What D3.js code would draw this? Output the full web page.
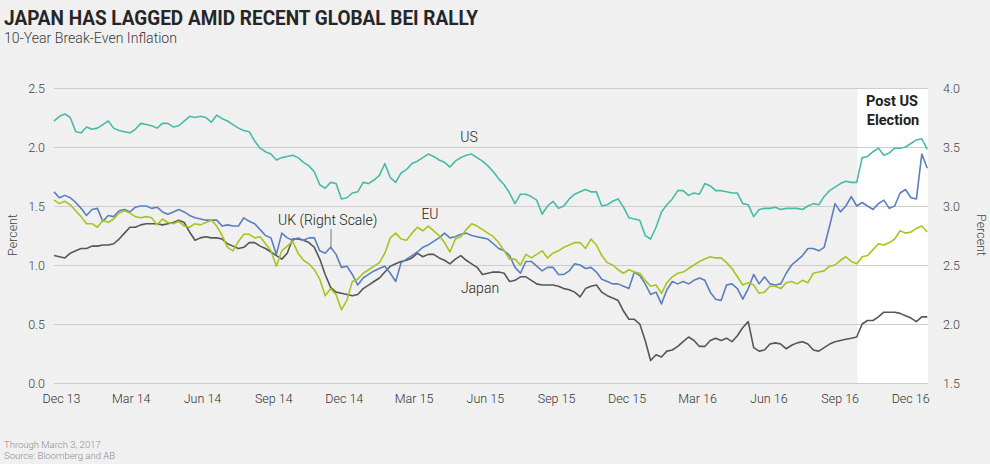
<!DOCTYPE html>
<html>
<head>
<meta charset="utf-8">
<script src="https://cdn.jsdelivr.net/npm/d3@7"></script>
<style>
  html, body { margin: 0; padding: 0; background: #f0f0f0; }
  svg { display: block; }
  text { font-family: Roboto, "Open Sans", "DejaVu Sans", sans-serif; }
</style>
</head>
<body>
<svg id="chart" width="990" height="464"></svg>
<script>
// ---------------- DATA ----------------
const title = "JAPAN HAS LAGGED AMID RECENT GLOBAL BEI RALLY";
const subtitle = "10-Year Break-Even Inflation";
const footnotes = ["Through March 3, 2017", "Source: Bloomberg and AB"];

const seriesStart = "2013-11-22";   // first weekly observation
const domainEnd = "2016-12-24";
const shadeStart = "2016-09-24";    // "Post US Election" panel
const xTickDates = ["2013-12-01","2014-03-01","2014-06-01","2014-09-01","2014-12-01","2015-03-01",
                    "2015-06-01","2015-09-01","2015-12-01","2016-03-01","2016-06-01","2016-09-01","2016-12-01"];
const leftTicks = [0, 0.5, 1.0, 1.5, 2.0, 2.5];
const rightTicks = [1.5, 2.0, 2.5, 3.0, 3.5, 4.0];

// weekly observations, percent (left scale)
const usValues = [2.22,2.26,2.28,2.25,2.13,2.12,2.17,2.15,2.16,2.19, 2.22,2.16,2.14,2.13,2.12,2.15,2.20,2.19,2.18,2.16,
  2.20,2.20,2.17,2.18,2.22,2.26,2.25,2.26,2.25,2.21, 2.27,2.24,2.22,2.19,2.16,2.14,2.13,2.05,1.99,1.96,
  1.94,1.89,1.91,1.92,1.93,1.91,1.87,1.84,1.79,1.68, 1.65,1.70,1.69,1.56,1.57,1.61,1.62,1.70,1.69,1.72,
  1.76,1.86,1.74,1.70,1.78,1.81,1.86,1.88,1.91,1.94, 1.92,1.89,1.87,1.83,1.88,1.91,1.93,1.94,1.91,1.88,
  1.84,1.79,1.73,1.68,1.61,1.52,1.60,1.60,1.58,1.55, 1.43,1.50,1.54,1.48,1.50,1.56,1.60,1.62,1.64,1.62,
  1.62,1.50,1.51,1.54,1.56,1.49,1.40,1.39,1.38,1.25, 1.22,1.32,1.45,1.51,1.56,1.63,1.63,1.59,1.61,1.60,
  1.69,1.67,1.63,1.63,1.62,1.61,1.61,1.52,1.51,1.41, 1.47,1.48,1.48,1.49,1.47,1.48,1.48,1.48,1.47,1.50,
  1.52,1.51,1.58,1.63,1.66,1.69,1.71,1.70,1.70,1.91, 1.92,1.96,1.99,1.93,1.95,1.99,1.99,2.00,2.03,2.06,
  2.07,1.98];

// UK on the right scale
const ukValues = [3.12,3.07,3.09,3.07,3.03,2.98,2.92,2.97,2.98,2.87, 2.92,2.91,2.96,2.97,2.95,2.99,3.00,3.00,2.98,2.99,
  2.95,2.93,2.95,2.97,2.95,2.92,2.90,2.89,2.88,2.88, 2.88,2.83,2.84,2.83,2.83,2.90,2.87,2.85,2.80,2.75,
  2.73,2.59,2.77,2.73,2.71,2.73,2.71,2.73,2.73,2.62, 2.60,2.65,2.59,2.48,2.49,2.42,2.33,2.39,2.42,2.45,
  2.47,2.49,2.43,2.36,2.52,2.55,2.58,2.61,2.65,2.67, 2.70,2.73,2.77,2.73,2.74,2.76,2.77,2.75,2.74,2.73,
  2.72,2.68,2.64,2.62,2.58,2.48,2.43,2.53,2.53,2.49, 2.45,2.48,2.48,2.42,2.42,2.45,2.51,2.50,2.47,2.48,
  2.44,2.38,2.36,2.34,2.34,2.32,2.30,2.44,2.41,2.34, 2.25,2.27,2.17,2.29,2.36,2.34,2.36,2.34,2.37,2.39,
  2.37,2.27,2.21,2.20,2.33,2.34,2.30,2.21,2.30,2.42, 2.34,2.40,2.34,2.33,2.34,2.43,2.50,2.54,2.58,2.64,
  2.64,2.62,2.65,2.83,3.02,2.95,3.00,3.08,3.00,3.03, 3.00,2.97,3.02,3.05,2.98,3.00,3.11,3.14,3.07,3.06,
  3.44,3.32];

const euValues = [1.55,1.52,1.54,1.51,1.46,1.41,1.35,1.35,1.32,1.38, 1.36,1.39,1.44,1.46,1.44,1.41,1.40,1.41,1.40,1.34,
  1.39,1.36,1.35,1.37,1.33,1.32,1.35,1.34,1.36,1.38, 1.33,1.25,1.15,1.12,1.20,1.26,1.26,1.23,1.24,1.18,
  1.12,0.99,1.12,1.16,1.20,1.10,1.04,1.01,0.96,0.88, 0.74,0.80,0.75,0.62,0.70,0.86,0.88,0.93,0.96,0.99,
  1.02,1.10,1.23,1.27,1.22,1.21,1.27,1.32,1.29,1.33, 1.29,1.25,1.19,1.11,1.22,1.24,1.30,1.35,1.33,1.30,
  1.27,1.24,1.19,1.12,1.05,1.05,1.00,1.09,1.06,1.09, 1.12,1.06,1.10,1.12,1.15,1.17,1.19,1.19,1.14,1.22,
  1.17,1.08,1.02,1.00,0.96,0.93,0.96,0.94,0.93,0.87, 0.82,0.83,0.76,0.85,0.90,0.93,0.94,0.97,1.00,1.03,
  1.05,1.07,1.06,1.06,1.02,0.97,0.90,0.83,0.85,0.83, 0.76,0.77,0.82,0.82,0.80,0.85,0.86,0.84,0.87,0.85,
  0.93,0.94,0.95,0.99,1.00,1.04,1.07,1.03,1.01,1.07, 1.08,1.13,1.18,1.17,1.19,1.22,1.29,1.27,1.28,1.31,
  1.33,1.28];

const japanValues = [1.08,1.07,1.06,1.10,1.12,1.14,1.14,1.16,1.16,1.17, 1.17,1.18,1.22,1.27,1.32,1.32,1.34,1.35,1.35,1.35,
  1.34,1.35,1.36,1.38,1.36,1.28,1.21,1.23,1.24,1.23, 1.23,1.22,1.18,1.16,1.14,1.15,1.19,1.19,1.16,1.14,
  1.11,1.08,1.05,1.10,1.22,1.22,1.21,1.19,1.15,1.05, 0.92,0.81,0.77,0.76,0.75,0.74,0.75,0.80,0.83,0.86,
  0.89,0.94,0.99,1.01,1.03,1.04,1.06,1.10,1.07,1.09, 1.09,1.06,1.04,1.01,1.05,1.08,1.04,1.01,0.98,0.92,
  0.93,0.94,0.94,0.93,0.86,0.87,0.90,0.90,0.87,0.84, 0.83,0.83,0.83,0.82,0.80,0.79,0.77,0.73,0.80,0.82,
  0.83,0.77,0.74,0.72,0.70,0.61,0.54,0.54,0.50,0.36, 0.19,0.24,0.22,0.27,0.28,0.31,0.35,0.39,0.36,0.31,
  0.31,0.36,0.38,0.36,0.38,0.35,0.40,0.47,0.52,0.30, 0.27,0.28,0.33,0.34,0.33,0.29,0.32,0.34,0.35,0.33,
  0.28,0.27,0.30,0.33,0.35,0.36,0.37,0.38,0.39,0.50, 0.53,0.53,0.56,0.60,0.60,0.60,0.59,0.57,0.55,0.52,
  0.56,0.56];

// ---------------- CHART ----------------
const parse = d3.timeParse("%Y-%m-%d");
const start = parse(seriesStart);
const dates = usValues.map((_, i) => d3.timeDay.offset(start, 7 * i));

const plot = { left: 54, right: 928, top: 88, bottom: 383 };
const svg = d3.select("#chart");

const x = d3.scaleTime().domain([start, parse(domainEnd)]).range([plot.left, plot.right]);
const yL = d3.scaleLinear().domain([0, 2.5]).range([plot.bottom, plot.top]);
const yR = d3.scaleLinear().domain([1.5, 4.0]).range([plot.bottom, plot.top]);

// titles
svg.append("text").attr("x", 4).attr("y", 25)
  .attr("font-size", 21).attr("font-weight", 700).attr("fill", "#262626")
  .attr("textLength", 474).attr("lengthAdjust", "spacingAndGlyphs")
  .text(title);
svg.append("text").attr("x", 4).attr("y", 43)
  .attr("font-size", 14).attr("font-weight", 300).attr("fill", "#3a3a3a")
  .attr("textLength", 173).attr("lengthAdjust", "spacingAndGlyphs")
  .text(subtitle);

// shaded post-election panel
svg.append("rect")
  .attr("x", x(parse(shadeStart))).attr("y", plot.top)
  .attr("width", plot.right - x(parse(shadeStart))).attr("height", plot.bottom - plot.top)
  .attr("fill", "#ffffff");

// left axis with gridlines
const gL = svg.append("g").attr("transform", `translate(${plot.left},0)`)
  .call(d3.axisLeft(yL).tickValues(leftTicks).tickFormat(d3.format(".1f"))
    .tickSize(-(plot.right - plot.left)).tickPadding(9));
gL.select(".domain").remove();
gL.selectAll(".tick line").attr("stroke", "#cdcdcd").attr("stroke-width", 1.2);
gL.selectAll(".tick text").attr("font-size", 12.5).attr("font-weight", 300).attr("fill", "#444").attr("font-family", "Roboto, sans-serif");

// right axis
const gR = svg.append("g").attr("transform", `translate(${plot.right},0)`)
  .call(d3.axisRight(yR).tickValues(rightTicks).tickFormat(d3.format(".1f")).tickSize(0).tickPadding(15));
gR.select(".domain").remove();
gR.selectAll(".tick text").attr("font-size", 12.5).attr("font-weight", 300).attr("fill", "#444").attr("font-family", "Roboto, sans-serif");

// bottom axis
const gX = svg.append("g").attr("transform", `translate(0,${plot.bottom})`)
  .call(d3.axisBottom(x).tickValues(xTickDates.map(parse)).tickFormat(d3.timeFormat("%b %y"))
    .tickSize(0).tickPadding(11));
gX.select(".domain").remove();
gX.selectAll(".tick text").attr("font-size", 12.5).attr("font-weight", 300).attr("fill", "#333").attr("font-family", "Roboto, sans-serif");

// axis titles
svg.append("text").attr("transform", `translate(17,235) rotate(-90)`)
  .attr("text-anchor", "middle").attr("font-size", 12.5).attr("font-weight", 300).attr("fill", "#444").text("Percent");
svg.append("text").attr("transform", `translate(977,235) rotate(90)`)
  .attr("text-anchor", "middle").attr("font-size", 12.5).attr("font-weight", 300).attr("fill", "#444").text("Percent");

// lines
const lineL = d3.line().x((d, i) => x(dates[i])).y(d => yL(d));
const lineR = d3.line().x((d, i) => x(dates[i])).y(d => yR(d));
const seriesDefs = [
  { name: "Japan", values: japanValues, line: lineL, color: "#575757" },
  { name: "UK", values: ukValues, line: lineR, color: "#5a7fbe" },
  { name: "EU", values: euValues, line: lineL, color: "#a8c41e" },
  { name: "US", values: usValues, line: lineL, color: "#48bba6" }
];
svg.append("g").selectAll("path").data(seriesDefs).join("path")
  .attr("d", d => d.line(d.values))
  .attr("fill", "none").attr("stroke", d => d.color)
  .attr("stroke-width", 1.6).attr("stroke-linejoin", "round");

// series labels
const lab = svg.append("g").attr("font-size", 14).attr("font-weight", 300).attr("fill", "#222");
lab.append("text").attr("x", 469).attr("y", 142).attr("text-anchor", "middle").text("US");
lab.append("text").attr("x", 278).attr("y", 225).text("UK (Right Scale)");
lab.append("text").attr("x", 430).attr("y", 219).attr("text-anchor", "middle").text("EU");
lab.append("text").attr("x", 480).attr("y", 293).attr("text-anchor", "middle").text("Japan");
svg.append("line").attr("x1", 331).attr("x2", 331).attr("y1", 229).attr("y2", 249)
  .attr("stroke", "#777").attr("stroke-width", 1);

// post election label
const pe = svg.append("g").attr("font-size", 14.5).attr("font-weight", 700).attr("fill", "#222")
  .attr("text-anchor", "middle");
pe.append("text").attr("x", 892).attr("y", 106).text("Post US");
pe.append("text").attr("x", 893).attr("y", 125).text("Election");

// footnotes
svg.append("g").selectAll("text").data(footnotes).join("text")
  .attr("x", 4).attr("y", (d, i) => 448 + i * 11)
  .attr("font-size", 9.5).attr("font-weight", 300).attr("fill", "#8c8c8c").text(d => d);
</script>
</body>
</html>
